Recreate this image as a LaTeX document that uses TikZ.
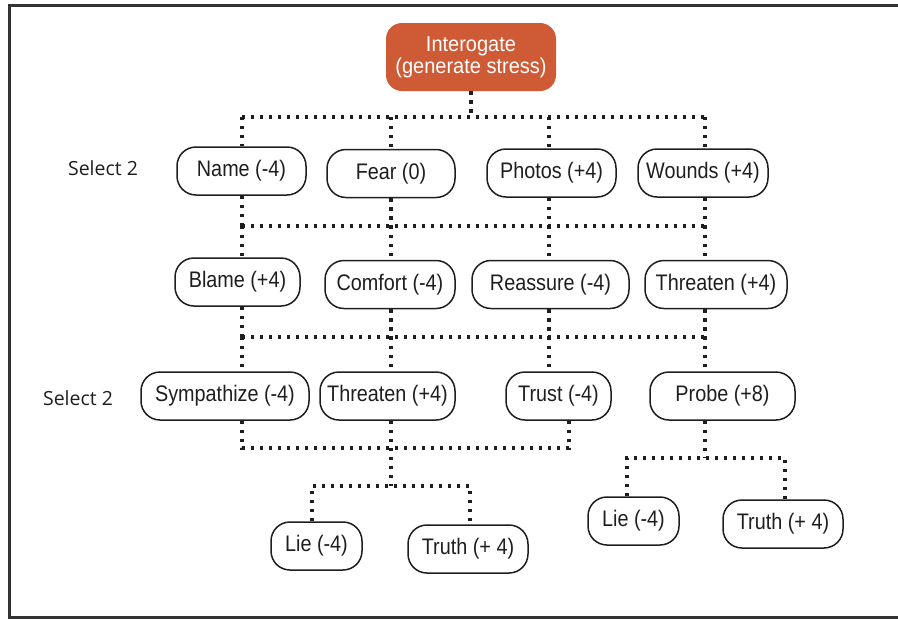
\documentclass[tikz,border=0pt]{standalone}
\usepackage{fontspec}
\setmainfont{Liberation Sans}
\newfontfamily\boxfont[FakeStretch=0.88]{Liberation Sans}
\newfontfamily\rootfont[FakeStretch=0.93]{Liberation Sans}
\newfontfamily\labelfont{Open Sans}
\definecolor{rootorange}{HTML}{CF5B36}
\definecolor{ink}{HTML}{1E1E1E}
\begin{document}
\begin{tikzpicture}[x=1pt,y=-1pt,
  choice/.style={draw=ink, line width=1.5pt, rounded corners=19pt, minimum height=48pt,
    inner sep=0pt, font=\boxfont\fontsize{22.5}{24}\selectfont, text=ink},
  root/.style={fill=rootorange, rounded corners=16pt, minimum width=170pt, minimum height=68pt,
    inner sep=0pt, text=white, align=center, font=\rootfont\fontsize{21.5}{22}\selectfont},
  link/.style={line width=3.6pt, dash pattern=on 3.4pt off 5.6pt, color=ink},
  rowlabel/.style={font=\labelfont\fontsize{19.5}{22}\selectfont, text=ink}
]
\useasboundingbox (0,0) rectangle (898,619);
% frame
\draw[line width=3pt, color=black!80] (905,5) -- (9.5,5) -- (9.5,617) -- (905,617);

% root
\node[root] (root) at (471,57) {Interogate\\(generate stress)};

% first choice row
\node[choice, minimum width=129pt] (name)   at (241.5,171)   {Name (-4)};
\node[choice, minimum width=128pt] (fear)   at (391,173.5)   {Fear (0)};
\node[choice, minimum width=129pt] (photos) at (551.5,173)   {Photos (+4)};
\node[choice, minimum width=130pt] (wounds) at (703,173)     {Wounds (+4)};

% second row
\node[choice, minimum width=125pt] (blame)     at (237.5,282)   {Blame (+4)};
\node[choice, minimum width=130pt] (comfort)   at (390,284.5)   {Comfort (-4)};
\node[choice, minimum width=157pt] (reassure)  at (550.5,284.5) {Reassure (-4)};
\node[choice, minimum width=142pt] (threatenA) at (716,284.5)   {Threaten (+4)};

% third row
\node[choice, minimum width=168pt] (sympathize) at (225,396)   {Sympathize (-4)};
\node[choice, minimum width=135pt] (threatenB)  at (387.5,396) {Threaten (+4)};
\node[choice, minimum width=105pt] (trust)      at (558.5,396) {Trust (-4)};
\node[choice, minimum width=145pt] (probe)      at (722.5,396) {Probe (+8)};

% outcomes
\node[choice, minimum width=91pt]  (lieA)   at (316.5,546) {Lie (-4)};
\node[choice, minimum width=120pt] (truthA) at (468,549)   {Truth (+ 4)};
\node[choice, minimum width=91pt]  (lieB)   at (633.5,521) {Lie (-4)};
\node[choice, minimum width=120pt] (truthB) at (783,524)   {Truth (+ 4)};

% row labels
\node[rowlabel] (sel1) at (103,168) {Select 2};
\node[rowlabel] (sel2) at (78,398)  {Select 2};

% connector columns and bus heights
\coordinate (colA) at (242,0);
\coordinate (colB) at (391,0);
\coordinate (colC) at (549,0);
\coordinate (colD) at (705,0);
\coordinate (colE) at (569,0);
\coordinate (colF) at (312,0);
\coordinate (colG) at (470,0);
\coordinate (colH) at (627,0);
\coordinate (colI) at (785,0);
\coordinate (bus1) at (0,117);
\coordinate (bus2) at (0,226);
\coordinate (bus3) at (0,337);
\coordinate (bus4) at (0,448);
\coordinate (busL) at (0,486);
\coordinate (busR) at (0,458);

% root to first row
\draw[link] (root.south) -- (root.south |- bus1);
\draw[link] (bus1 -| colA) -- (bus1 -| colD);
\foreach \n/\c in {name/colA, fear/colB, photos/colC, wounds/colD} {
  \draw[link] (bus1 -| \c) -- (\n.north -| \c);
  \draw[link] (\n.south -| \c) -- (bus2 -| \c);
}
% first to second row
\draw[link] (bus2 -| colA) -- (bus2 -| colD);
\foreach \n/\c in {blame/colA, comfort/colB, reassure/colC, threatenA/colD} {
  \draw[link] (bus2 -| \c) -- (\n.north -| \c);
  \draw[link] (\n.south -| \c) -- (bus3 -| \c);
}
% second to third row
\draw[link] (bus3 -| colA) -- (bus3 -| colD);
\foreach \n/\c in {sympathize/colA, threatenB/colB, trust/colC, probe/colD} {
  \draw[link] (bus3 -| \c) -- (\n.north -| \c);
}
% third row to outcomes
\draw[link] (sympathize.south -| colA) -- (bus4 -| colA) -- (bus4 -| colE) -- (trust.south -| colE);
\draw[link] (threatenB.south -| colB) -- (busL -| colB);
\draw[link] (lieA.north -| colF) -- (busL -| colF) -- (busL -| colG) -- (truthA.north -| colG);
\draw[link] (probe.south -| colD) -- (busR -| colD);
\draw[link] (lieB.north -| colH) -- (busR -| colH) -- (busR -| colI) -- (truthB.north -| colI);
\end{tikzpicture}
\end{document}
